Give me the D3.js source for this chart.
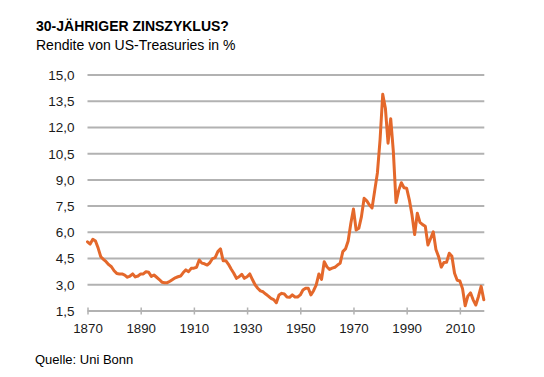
<!DOCTYPE html>
<html><head><meta charset="utf-8">
<script src="https://cdn.jsdelivr.net/npm/d3@7"></script>
<style>
html,body{margin:0;padding:0;background:#fff;}
svg{display:block;font-family:"Liberation Sans",Arial,Helvetica,sans-serif;}
</style></head>
<body>
<svg id="c" width="544" height="377"></svg>
<script>
const title = "30-JÄHRIGER ZINSZYKLUS?";
const subtitle = "Rendite von US-Treasuries in %";
const source = "Quelle: Uni Bonn";
const startYear = 1870;
const yields = [
5.46,5.33,5.6,5.5,5.1,4.6,4.45,4.32,4.15,4.03,
3.8,3.65,3.62,3.62,3.55,3.43,3.5,3.62,3.45,3.5,
3.62,3.62,3.75,3.72,3.48,3.56,3.43,3.3,3.15,3.12,
3.12,3.2,3.3,3.4,3.46,3.5,3.7,3.85,3.75,3.94,
3.95,4.0,4.42,4.24,4.2,4.13,4.26,4.5,4.55,4.9,
5.05,4.38,4.38,4.17,3.9,3.66,3.37,3.46,3.6,3.37,
3.46,3.62,3.3,3.0,2.8,2.65,2.6,2.47,2.35,2.22,
2.15,1.97,2.42,2.51,2.47,2.3,2.28,2.42,2.3,2.3,
2.42,2.7,2.8,2.8,2.42,2.66,3.0,3.62,3.31,4.32,
4.03,3.88,3.95,4.0,4.13,4.23,4.9,5.05,5.5,6.5,
7.33,6.13,6.23,6.9,7.95,7.8,7.56,7.4,8.4,9.4,
11.3,13.9,13.1,11.1,12.5,10.6,7.7,8.4,8.84,8.55,
8.52,7.86,7.0,5.87,7.09,6.57,6.44,6.35,5.28,5.65,
6.03,5.02,4.61,4.01,4.27,4.29,4.8,4.63,3.66,3.26,
3.22,2.78,1.80,2.35,2.54,2.14,1.84,2.33,2.91,2.14
];
const years = yields.map((v,i)=>startYear+i);
const yTicks = [1.5,3,4.5,6,7.5,9,10.5,12,13.5,15];
const xTicks = [1870,1890,1910,1930,1950,1970,1990,2010];

const svg = d3.select("#c");
const x = d3.scaleLinear().domain([1870,2019]).range([87.5,483.8]);
const y = d3.scaleLinear().domain([1.5,15]).range([311,75]);
const fmt = v => d3.format(".1f")(v).replace(".",",");

svg.append("text").attr("x",36).attr("y",31).attr("font-size",14).attr("font-weight","bold").attr("fill","#000").text(title);
svg.append("text").attr("x",36).attr("y",50).attr("font-size",14).attr("fill","#000").text(subtitle);
svg.append("text").attr("x",35).attr("y",364).attr("font-size",13).attr("fill","#000").text(source);

// gridlines
svg.append("g").selectAll("line").data(yTicks.filter(d=>d>1.5)).join("line")
  .attr("x1",x(1870)).attr("x2",x(2019)+0.5)
  .attr("y1",d=>y(d)).attr("y2",d=>y(d))
  .attr("stroke","#b2b2b2").attr("stroke-width",2);

// y labels
svg.append("g").selectAll("text").data(yTicks).join("text")
  .attr("x",74.5).attr("y",d=>y(d)).attr("dy","0.36em")
  .attr("text-anchor","end").attr("font-size",13.5).attr("fill","#1a1a1a")
  .text(fmt);

// x axis
const xAxis = d3.axisBottom(x).tickValues(xTicks).tickFormat(d3.format("d")).tickSize(3.5).tickSizeOuter(0);
const gx = svg.append("g").attr("transform",`translate(0,${y(1.5)})`).call(xAxis);
gx.select(".domain").attr("stroke","#b2b2b2").attr("stroke-width",2).attr("d",`M${x(1870)},0H${x(2019)+0.5}`);
gx.selectAll(".tick line").attr("stroke","#b2b2b2").attr("stroke-width",1.5).attr("y1",-3.5).attr("y2",3.5);
gx.selectAll(".tick text").attr("y",13).attr("dy","0.71em").attr("font-size",13.3).attr("fill","#1a1a1a")
  .attr("font-family","\"Liberation Sans\",Arial,Helvetica,sans-serif");

// line
const line = d3.line().x((d,i)=>x(years[i])).y(d=>y(d)).curve(d3.curveLinear);
svg.append("path").datum(yields).attr("d",line)
  .attr("fill","none").attr("stroke","#e4682b").attr("stroke-width",3)
  .attr("stroke-linejoin","round").attr("stroke-linecap","round");
</script>
</body></html>
